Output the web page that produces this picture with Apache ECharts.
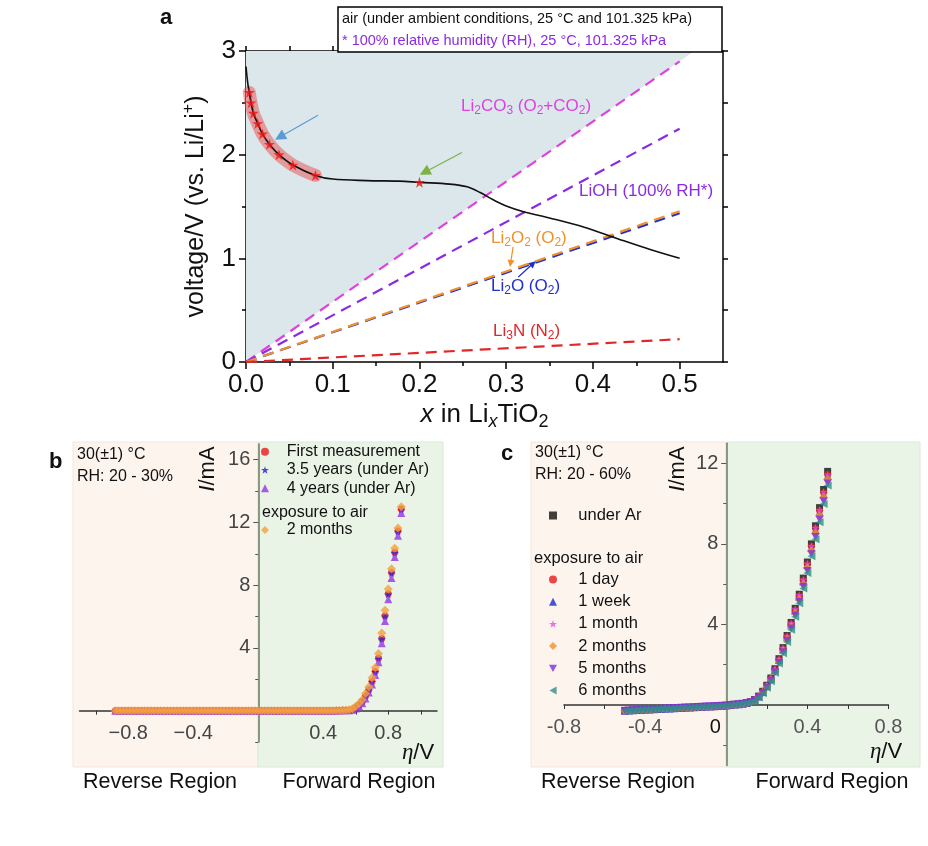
<!DOCTYPE html>
<html>
<head>
<meta charset="utf-8">
<title>LixTiO2 voltage profile and I-eta curves</title>
<script src="https://cdn.jsdelivr.net/npm/echarts@6/dist/echarts.min.js"></script>
<style>
  html, body { margin: 0; padding: 0; background: #fff; }
  #chart { width: 928px; height: 846px; }
</style>
</head>
<body>
<div id="chart"></div>
<script>
const FONT = 'Liberation Sans';

// ---- panel a: voltage vs x in LixTiO2 ----
const aCurveX = [0, 0.002, 0.0038, 0.0058, 0.0085, 0.0135, 0.019, 0.027, 0.038, 0.054, 0.08, 0.1, 0.139, 0.177, 0.2, 0.235, 0.255, 0.27, 0.285, 0.3, 0.32, 0.35, 0.39, 0.43, 0.466, 0.5];
const aCurveV = [2.85, 2.69, 2.6, 2.5, 2.4, 2.3, 2.2, 2.1, 2.0, 1.9, 1.8, 1.765, 1.75, 1.745, 1.733, 1.716, 1.69, 1.635, 1.565, 1.505, 1.45, 1.39, 1.3, 1.185, 1.085, 1.0];
const aStarX = [0.0038, 0.0058, 0.0085, 0.0135, 0.019, 0.027, 0.038, 0.054, 0.08, 0.2];
const aStarV = [2.6, 2.5, 2.4, 2.3, 2.2, 2.1, 2.0, 1.9, 1.8, 1.733];
const aLineX = [0, 0.5];
const li2co3V = [0, 2.9];
const liohV = [0, 2.25];
const li2o2V = [0, 1.455];
const li2oV = [0, 1.435];
const li3nV = [0, 0.22];
const shadeX = [0, 0.517];
const shadeV = [0, 3];
const aXMajor = [0, 0.1, 0.2, 0.3, 0.4, 0.5];
const aXMinor = [0.05, 0.15, 0.25, 0.35, 0.45];
const aXAll = [0, 0.05, 0.1, 0.15, 0.2, 0.25, 0.3, 0.35, 0.4, 0.45, 0.5];
const aYMajor = [0, 1, 2, 3];
const aYMinor = [0.5, 1.5, 2.5];
const aYAll = [0, 0.5, 1, 1.5, 2, 2.5, 3];
// arrow annotations [fromX, fromY, toX, toY, colour, head size]
const aArrows = [
  [0.083, 2.38, 0.039, 2.17, '#5b9bd5', 11],
  [0.249, 2.02, 0.206, 1.83, '#7cb342', 11],
  [0.308, 1.11, 0.305, 0.95, '#f0912a', 7],
  [0.314, 0.82, 0.331, 0.95, '#1f2ecf', 7]
];

// ---- panel b: I vs eta, 30 C, RH 20-30% ----
const bEta = [
  -0.88, -0.86, -0.84, -0.82, -0.80, -0.78, -0.76, -0.74, -0.72, -0.70,
  -0.68, -0.66, -0.64, -0.62, -0.60, -0.58, -0.56, -0.54, -0.52, -0.50,
  -0.48, -0.46, -0.44, -0.42, -0.40, -0.38, -0.36, -0.34, -0.32, -0.30,
  -0.28, -0.26, -0.24, -0.22, -0.20, -0.18, -0.16, -0.14, -0.12, -0.10,
  -0.08, -0.06, -0.04, -0.02, 0.00, 0.02, 0.04, 0.06, 0.08, 0.10,
  0.12, 0.14, 0.16, 0.18, 0.20, 0.22, 0.24, 0.26, 0.28, 0.30,
  0.32, 0.34, 0.36, 0.38, 0.40, 0.42, 0.44, 0.46, 0.48, 0.50,
  0.52, 0.54,
  0.56, 0.58, 0.60, 0.62, 0.64, 0.66, 0.68, 0.70, 0.72, 0.74, 0.76, 0.78, 0.80, 0.82, 0.84, 0.86, 0.88
];
const bFlatI = [
  0, 0, 0, 0, 0, 0, 0, 0, 0, 0,
  0, 0, 0, 0, 0, 0, 0, 0, 0, 0,
  0, 0, 0, 0, 0, 0, 0, 0, 0, 0,
  0, 0, 0, 0, 0, 0, 0, 0, 0, 0,
  0, 0, 0, 0, 0, 0, 0, 0, 0, 0,
  0, 0, 0, 0, 0, 0, 0, 0, 0, 0,
  0, 0, 0, 0, 0, 0, 0, 0, 0.01, 0.01,
  0.02, 0.03
];
const bFirstRise = [0.03, 0.08, 0.2, 0.36, 0.58, 0.92, 1.32, 1.86, 2.5, 3.35, 4.6, 6.05, 7.45, 8.8, 10.1, 11.45, 12.85];
const bYear35Rise = [0.03, 0.07, 0.19, 0.35, 0.56, 0.9, 1.3, 1.83, 2.46, 3.3, 4.55, 6.0, 7.4, 8.75, 10.05, 11.4, 12.8];
const bYear4Rise = [0.02, 0.05, 0.14, 0.28, 0.47, 0.78, 1.15, 1.66, 2.27, 3.08, 4.3, 5.72, 7.1, 8.45, 9.8, 11.15, 12.6];
const bAir2mRise = [0.05, 0.12, 0.28, 0.45, 0.7, 1.1, 1.5, 2.1, 2.75, 3.65, 4.95, 6.4, 7.75, 9.05, 10.35, 11.65, 13.0];
const bXTicks = [-1.0, -0.8, -0.6, -0.4, -0.2, 0.2, 0.4, 0.6, 0.8, 1.0];
const bXLabels = [-0.8, -0.4, 0.4, 0.8];
const bYMajor = [4, 8, 12, 16];
const bYMinor = [-2, 2, 6, 10, 14];

// ---- panel c: I vs eta, 30 C, RH 20-60% ----
const cEta = [
  -0.50, -0.48, -0.46, -0.44, -0.42, -0.40, -0.38, -0.36, -0.34, -0.32,
  -0.30, -0.28, -0.26, -0.24, -0.22, -0.20, -0.18, -0.16, -0.14, -0.12,
  -0.10, -0.08, -0.06, -0.04, -0.02, 0.00, 0.02, 0.04, 0.06, 0.08,
  0.10,
  0.12, 0.14, 0.16, 0.18, 0.20, 0.22, 0.24, 0.26, 0.28, 0.30,
  0.32, 0.34, 0.36, 0.38, 0.40, 0.42, 0.44, 0.46, 0.48, 0.50
];
const cFlatI = [
  -0.28, -0.27, -0.26, -0.25, -0.24, -0.23, -0.22, -0.21, -0.2, -0.19,
  -0.18, -0.17, -0.16, -0.15, -0.14, -0.13, -0.12, -0.11, -0.1, -0.09,
  -0.08, -0.07, -0.06, -0.05, -0.04, -0.02, 0.0, 0.02, 0.04, 0.06,
  0.1
];
const cArRise = [0.16, 0.27, 0.44, 0.68, 0.98, 1.34, 1.8, 2.3, 2.85, 3.45, 4.1, 4.8, 5.5, 6.3, 7.1, 8.0, 8.9, 9.8, 10.7, 11.6];
const cDay1Rise = [0.15, 0.26, 0.43, 0.66, 0.95, 1.31, 1.76, 2.26, 2.8, 3.4, 4.04, 4.72, 5.43, 6.2, 7.0, 7.88, 8.78, 9.66, 10.55, 11.45];
const cWeek1Rise = [0.15, 0.26, 0.42, 0.65, 0.94, 1.3, 1.74, 2.23, 2.77, 3.36, 4.0, 4.68, 5.38, 6.15, 6.95, 7.82, 8.7, 9.58, 10.47, 11.38];
const cMonth1Rise = [0.16, 0.27, 0.43, 0.67, 0.96, 1.32, 1.77, 2.27, 2.82, 3.42, 4.06, 4.75, 5.45, 6.22, 7.02, 7.9, 8.8, 9.68, 10.58, 11.45];
const cMonth2Rise = [0.14, 0.24, 0.4, 0.62, 0.9, 1.25, 1.68, 2.16, 2.69, 3.27, 3.9, 4.56, 5.25, 6.0, 6.8, 7.65, 8.52, 9.4, 10.3, 11.2];
const cMonth5Rise = [0.13, 0.23, 0.38, 0.6, 0.87, 1.21, 1.63, 2.1, 2.62, 3.19, 3.8, 4.45, 5.13, 5.87, 6.65, 7.48, 8.34, 9.2, 10.1, 11.0];
const cMonth6Rise = [0.13, 0.22, 0.37, 0.58, 0.85, 1.18, 1.6, 2.06, 2.57, 3.13, 3.74, 4.38, 5.05, 5.78, 6.55, 7.38, 8.23, 9.08, 9.98, 10.9];
const cXTicks = [-0.8, -0.6, -0.4, -0.2, 0, 0.2, 0.4, 0.6, 0.8];
const cXLabels = [-0.8, -0.4, 0, 0.4, 0.8];
const cYMajor = [4, 8, 12];
const cYMinor = [-2, 2, 6, 10];

const starPath = 'path://M12,0 L14.8,8.6 L24,8.6 L16.6,14 L19.4,22.8 L12,17.4 L4.6,22.8 L7.4,14 L0,8.6 L9.2,8.6 Z';
const downTriPath = 'path://M0,0 L10,0 L5,9 Z';
const leftTriPath = 'path://M9,0 L9,10 L0,5 Z';

function zip(xs, ys) {
  return xs.map((x, i) => [x, ys[i]]);
}
function ivPairs(eta, flat, rise) {
  return eta.map((e, i) => [e, i < flat.length ? flat[i] : rise[i - flat.length]]);
}

const chart = echarts.init(document.getElementById('chart'), null, { renderer: 'canvas' });

const black = { color: '#000', width: 1.5 };

function dashLine(name, ys, color) {
  return {
    name: name, type: 'line', xAxisIndex: 0, yAxisIndex: 0,
    data: zip(aLineX, ys), showSymbol: false, silent: true,
    lineStyle: { color: color, width: 2.2, type: [11, 7] }, z: 3
  };
}

function ivSeries(name, x, y, data, symbol, color, size) {
  return {
    name: name, type: 'scatter', xAxisIndex: x, yAxisIndex: y,
    data: data, symbol: symbol, symbolSize: size,
    itemStyle: { color: color }, silent: true
  };
}

function hiddenAxis(grid, min, max) {
  return { gridIndex: grid, type: 'value', min: min, max: max, show: false };
}

function aText(x, y, text, color) {
  return {
    type: 'text', x: x, y: y, z: 100,
    style: {
      text: text, fill: color, fontSize: 17, fontFamily: FONT,
      verticalAlign: 'middle', lineHeight: 22,
      rich: { s: { fontSize: 12, fill: color, verticalAlign: 'bottom', lineHeight: 22, fontFamily: FONT } }
    }
  };
}

function plainText(x, y, text, size, extraStyle) {
  return {
    type: 'text', x: x, y: y, z: 100,
    style: Object.assign({ text: text, fill: '#111', fontSize: size, fontFamily: FONT, verticalAlign: 'middle' }, extraStyle || {})
  };
}

function legendBox(names, left, top, gap, pad, size) {
  return {
    data: names, orient: 'vertical', left: left, top: top, padding: 0,
    itemWidth: 8, itemHeight: 8, itemGap: gap, selectedMode: false,
    textStyle: { fontSize: size, lineHeight: 16, color: '#111', fontFamily: FONT, padding: [0, 0, 0, pad] }
  };
}

const ivTickLabel = { fontSize: 20, color: '#444' };

const option = {
  animation: false,
  backgroundColor: '#fff',
  textStyle: { fontFamily: FONT },
  grid: [
    { left: 246, top: 51, width: 477, height: 311, outerBoundsMode: 'none' },        // 0 a
    { left: 79.5, top: 444, width: 357.5, height: 298, outerBoundsMode: 'none' },    // 1 b data
    { left: 79.5, top: 444, width: 357.5, height: 266.6, outerBoundsMode: 'none' },  // 2 b eta axis
    { left: 258.25, top: 444, width: 178.75, height: 298, outerBoundsMode: 'none' }, // 3 b I axis
    { left: 564, top: 443.2, width: 324.5, height: 322.2, outerBoundsMode: 'none' }, // 4 c data
    { left: 564, top: 443.2, width: 324.5, height: 261.8, outerBoundsMode: 'none' }, // 5 c eta axis
    { left: 726.25, top: 443.2, width: 162.25, height: 322.2, outerBoundsMode: 'none' } // 6 c I axis
  ],
  xAxis: [
    {
      gridIndex: 0, type: 'value', min: 0, max: 0.55, position: 'bottom',
      axisLine: { onZero: false, lineStyle: black },
      axisTick: { customValues: aXMajor, length: 7, lineStyle: black },
      axisLabel: { customValues: aXMajor, formatter: v => v.toFixed(1), fontSize: 26, color: '#111', margin: 10 },
      splitLine: { show: false },
      name: '{i|x} in Li{si|x}TiO{s|2}', nameLocation: 'middle', nameGap: 35,
      nameTextStyle: {
        fontSize: 26, color: '#111', lineHeight: 32,
        rich: {
          i: { fontSize: 26, fontStyle: 'italic', lineHeight: 32 },
          si: { fontSize: 18, fontStyle: 'italic', verticalAlign: 'bottom', lineHeight: 32 },
          s: { fontSize: 18, verticalAlign: 'bottom', lineHeight: 32 }
        }
      }
    },
    {
      gridIndex: 0, type: 'value', min: 0, max: 0.55, position: 'bottom',
      axisLine: { show: false, onZero: false },
      axisTick: { customValues: aXMinor, length: 4, lineStyle: black },
      axisLabel: { show: false }, splitLine: { show: false }
    },
    {
      gridIndex: 0, type: 'value', min: 0, max: 0.55, position: 'top',
      axisLine: { onZero: false, lineStyle: black },
      axisTick: { customValues: aXAll, length: 5, lineStyle: black },
      axisLabel: { show: false }, splitLine: { show: false }
    },
    hiddenAxis(1, -1.1, 1.1),
    {
      gridIndex: 2, type: 'value', min: -1.1, max: 1.1, position: 'bottom',
      axisLine: { onZero: false, lineStyle: { color: '#333', width: 1.5 } },
      axisTick: { customValues: bXTicks, length: 4, lineStyle: { color: '#333' } },
      axisLabel: Object.assign({
        customValues: bXLabels, margin: 13,
        formatter: v => (v < 0 ? '\u2212' : '') + Math.abs(v).toFixed(1)
      }, ivTickLabel),
      splitLine: { show: false }
    },
    hiddenAxis(3, 0, 1.1),
    hiddenAxis(4, -0.8, 0.8),
    {
      gridIndex: 5, type: 'value', min: -0.8, max: 0.8, position: 'bottom',
      axisLine: { onZero: false, lineStyle: { color: '#333', width: 1.5 } },
      axisTick: { customValues: cXTicks, length: 4, lineStyle: { color: '#333' } },
      axisLabel: {
        customValues: cXLabels, fontSize: 20, color: '#555', margin: 12,
        formatter: v => (v === 0 ? '{z|0}' : v.toFixed(1)),
        rich: { z: { fontSize: 20, color: '#111', padding: [0, 22, 0, 0] } }
      },
      splitLine: { show: false }
    },
    hiddenAxis(6, 0, 0.8)
  ],
  yAxis: [
    {
      gridIndex: 0, type: 'value', min: 0, max: 3, position: 'left',
      axisLine: { onZero: false, lineStyle: black },
      axisTick: { customValues: aYMajor, length: 7, lineStyle: black },
      axisLabel: { customValues: aYMajor, fontSize: 26, color: '#111', margin: 10 },
      splitLine: { show: false },
      name: 'voltage/V (vs. Li/Li{p|+})', nameLocation: 'middle', nameGap: 28, nameRotate: 90,
      nameTextStyle: {
        fontSize: 25, color: '#111', lineHeight: 30,
        rich: { p: { fontSize: 16, verticalAlign: 'top', lineHeight: 30 } }
      }
    },
    {
      gridIndex: 0, type: 'value', min: 0, max: 3, position: 'left',
      axisLine: { show: false, onZero: false },
      axisTick: { customValues: aYMinor, length: 4, lineStyle: black },
      axisLabel: { show: false }, splitLine: { show: false }
    },
    {
      gridIndex: 0, type: 'value', min: 0, max: 3, position: 'right',
      axisLine: { onZero: false, lineStyle: black },
      axisTick: { customValues: aYAll, length: 5, lineStyle: black },
      axisLabel: { show: false }, splitLine: { show: false }
    },
    hiddenAxis(1, -2, 17),
    hiddenAxis(2, 0, 17),
    {
      gridIndex: 3, type: 'value', min: -2, max: 17, position: 'left',
      axisLine: { onZero: false, lineStyle: { color: '#6b7a60', width: 1.5 } },
      axisTick: { customValues: bYMajor, length: 5, lineStyle: { color: '#555' } },
      axisLabel: Object.assign({ customValues: bYMajor, margin: 8 }, ivTickLabel),
      splitLine: { show: false }
    },
    {
      gridIndex: 3, type: 'value', min: -2, max: 17, position: 'left',
      axisLine: { show: false, onZero: false },
      axisTick: { customValues: bYMinor, length: 3, lineStyle: { color: '#555' } },
      axisLabel: { show: false }, splitLine: { show: false }
    },
    hiddenAxis(4, -3, 13),
    hiddenAxis(5, 0, 13),
    {
      gridIndex: 6, type: 'value', min: -3, max: 13, position: 'left',
      axisLine: { onZero: false, lineStyle: { color: '#6b7a60', width: 1.5 } },
      axisTick: { customValues: cYMajor, length: 5, lineStyle: { color: '#555' } },
      axisLabel: Object.assign({ customValues: cYMajor, margin: 8 }, ivTickLabel),
      splitLine: { show: false }
    },
    {
      gridIndex: 6, type: 'value', min: -3, max: 13, position: 'left',
      axisLine: { show: false, onZero: false },
      axisTick: { customValues: cYMinor, length: 3, lineStyle: { color: '#555' } },
      axisLabel: { show: false }, splitLine: { show: false }
    }
  ],
  legend: [
    legendBox(['First measurement', '3.5 years (under Ar)', '4 years (under Ar)'], 261, 443.7, 2.3, 12.7, 16),
    legendBox(['2 months'], 261, 522, 2.3, 12.7, 16),
    legendBox(['under Ar'], 549, 507, 5.2, 16.3, 16.5),
    legendBox(['1 day', '1 week', '1 month', '2 months ', '5 months', '6 months'], 549, 571, 5.2, 16.3, 16.5)
  ],
  series: [
    {
      name: 'shade', type: 'line', xAxisIndex: 0, yAxisIndex: 0,
      data: zip(shadeX, shadeV), showSymbol: false, silent: true,
      lineStyle: { width: 0 },
      areaStyle: { origin: 'end', color: '#dbe7ea', opacity: 1 }, z: 1
    },
    dashLine('Li2CO3', li2co3V, '#e040e0'),
    dashLine('LiOH', liohV, '#8a2be2'),
    dashLine('Li2O', li2oV, '#1f2ecf'),
    dashLine('Li2O2', li2o2V, '#f0912a'),
    dashLine('Li3N', li3nV, '#e02828'),
    {
      name: 'glow', type: 'line', xAxisIndex: 0, yAxisIndex: 0,
      data: zip(aStarX.slice(0, 9), aStarV.slice(0, 9)), showSymbol: false, silent: true,
      smooth: 0.4,
      lineStyle: { color: 'rgba(232,80,80,0.5)', width: 13, cap: 'round', join: 'round' }, z: 4
    },
    {
      name: 'curve', type: 'line', xAxisIndex: 0, yAxisIndex: 0,
      data: zip(aCurveX, aCurveV), showSymbol: false, silent: true,
      smooth: 0.35,
      lineStyle: { color: '#111', width: 1.6 }, z: 5
    },
    {
      name: 'stars', type: 'scatter', xAxisIndex: 0, yAxisIndex: 0,
      data: zip(aStarX, aStarV), symbol: starPath, symbolSize: 11,
      itemStyle: { color: '#f01414' }, silent: true, z: 6,
      markLine: {
        silent: true, animation: false, label: { show: false },
        data: aArrows.map(a => [
          { coord: [a[0], a[1]], symbol: 'none', lineStyle: { color: a[4], width: 1.2, type: 'solid' } },
          { coord: [a[2], a[3]], symbol: 'triangle', symbolSize: a[5] }
        ])
      }
    },
    ivSeries('First measurement', 3, 3, ivPairs(bEta, bFlatI, bFirstRise), 'circle', '#e8191f', 7),
    ivSeries('3.5 years (under Ar)', 3, 3, ivPairs(bEta, bFlatI, bYear35Rise), starPath, '#1f1fd6', 8),
    ivSeries('4 years (under Ar)', 3, 3, ivPairs(bEta, bFlatI, bYear4Rise), 'triangle', '#9433e6', 8),
    ivSeries('2 months', 3, 3, ivPairs(bEta, bFlatI, bAir2mRise), 'diamond', '#f5a03c', 9),
    ivSeries('under Ar', 6, 7, ivPairs(cEta, cFlatI, cArRise), 'rect', '#111', 7),
    ivSeries('1 day', 6, 7, ivPairs(cEta, cFlatI, cDay1Rise), 'circle', '#e41a1c', 7),
    ivSeries('1 week', 6, 7, ivPairs(cEta, cFlatI, cWeek1Rise), 'triangle', '#1a2ad6', 8),
    ivSeries('1 month', 6, 7, ivPairs(cEta, cFlatI, cMonth1Rise), starPath, '#e550e5', 8),
    ivSeries('2 months ', 6, 7, ivPairs(cEta, cFlatI, cMonth2Rise), 'diamond', '#f2902a', 9),
    ivSeries('5 months', 6, 7, ivPairs(cEta, cFlatI, cMonth5Rise), downTriPath, '#7f2be0', 8),
    ivSeries('6 months', 6, 7, ivPairs(cEta, cFlatI, cMonth6Rise), leftTriPath, '#2e8f8a', 8)
  ],
  graphic: [
    // backgrounds of panels b and c
    { type: 'rect', z: -10, shape: { x: 73, y: 442, width: 185, height: 325 }, style: { fill: '#fdf4ee', stroke: '#f6e4d8', lineWidth: 1 } },
    { type: 'rect', z: -10, shape: { x: 258, y: 442, width: 185, height: 325 }, style: { fill: '#e9f4e6', stroke: '#d9ead4', lineWidth: 1 } },
    { type: 'rect', z: -10, shape: { x: 531, y: 442, width: 195, height: 325 }, style: { fill: '#fdf4ee', stroke: '#f6e4d8', lineWidth: 1 } },
    { type: 'rect', z: -10, shape: { x: 726, y: 442, width: 194, height: 325 }, style: { fill: '#e9f4e6', stroke: '#d9ead4', lineWidth: 1 } },
    // condition box of panel a
    { type: 'rect', z: 100, shape: { x: 338, y: 7, width: 384, height: 45 }, style: { fill: '#fff', stroke: '#000', lineWidth: 1.5 } },
    plainText(342, 19, 'air (under ambient conditions, 25 \u00b0C and 101.325 kPa)', 14.5),
    plainText(342, 41, '* 100% relative humidity (RH), 25 \u00b0C, 101.325 kPa', 14.5, { fill: '#8a2be2' }),
    // panel letters
    plainText(160, 18, 'a', 22, { fontWeight: 'bold' }),
    plainText(49, 462, 'b', 22, { fontWeight: 'bold' }),
    plainText(501, 454, 'c', 22, { fontWeight: 'bold' }),
    // panel a labels
    aText(461, 106, 'Li{s|2}CO{s|3} (O{s|2}+CO{s|2})', '#e040e0'),
    aText(579, 191, 'LiOH (100% RH*)', '#8a2be2'),
    aText(491, 238, 'Li{s|2}O{s|2} (O{s|2})', '#f0912a'),
    aText(491, 286, 'Li{s|2}O (O{s|2})', '#1f2ecf'),
    aText(493, 331, 'Li{s|3}N (N{s|2})', '#e02828'),
    // panel b texts
    plainText(77, 455, '30(\u00b11) \u00b0C', 16),
    plainText(77, 477, 'RH: 20 - 30%', 16),
    plainText(262, 513, 'exposure to air', 16),
    // panel c texts
    plainText(535, 453, '30(\u00b11) \u00b0C', 16),
    plainText(535, 475, 'RH: 20 - 60%', 16),
    plainText(534, 558, 'exposure to air', 16.5),
    // rotated current labels
    { type: 'text', x: 208, y: 469, rotation: Math.PI / 2, z: 100,
      style: { text: '{i|I}/mA', fill: '#111', fontSize: 22, fontFamily: FONT, align: 'center', verticalAlign: 'middle',
        rich: { i: { fontSize: 22, fontStyle: 'italic', fontFamily: FONT } } } },
    { type: 'text', x: 678, y: 469, rotation: Math.PI / 2, z: 100,
      style: { text: '{i|I}/mA', fill: '#111', fontSize: 22, fontFamily: FONT, align: 'center', verticalAlign: 'middle',
        rich: { i: { fontSize: 22, fontStyle: 'italic', fontFamily: FONT } } } },
    // overpotential labels
    { type: 'text', x: 418, y: 753, z: 100,
      style: { text: '{e|\u03b7}/V', fill: '#111', fontSize: 22, fontFamily: FONT, align: 'center', verticalAlign: 'middle',
        rich: { e: { fontSize: 23, fontStyle: 'italic', fontFamily: 'Liberation Serif' } } } },
    { type: 'text', x: 886, y: 752, z: 100,
      style: { text: '{e|\u03b7}/V', fill: '#111', fontSize: 22, fontFamily: FONT, align: 'center', verticalAlign: 'middle',
        rich: { e: { fontSize: 23, fontStyle: 'italic', fontFamily: 'Liberation Serif' } } } },
    // region captions
    plainText(160, 782, 'Reverse Region', 21.5, { align: 'center' }),
    plainText(359, 782, 'Forward Region', 21.5, { align: 'center' }),
    plainText(618, 782, 'Reverse Region', 21.5, { align: 'center' }),
    plainText(832, 782, 'Forward Region', 21.5, { align: 'center' })
  ]
};

chart.setOption(option);
</script>
</body>
</html>
